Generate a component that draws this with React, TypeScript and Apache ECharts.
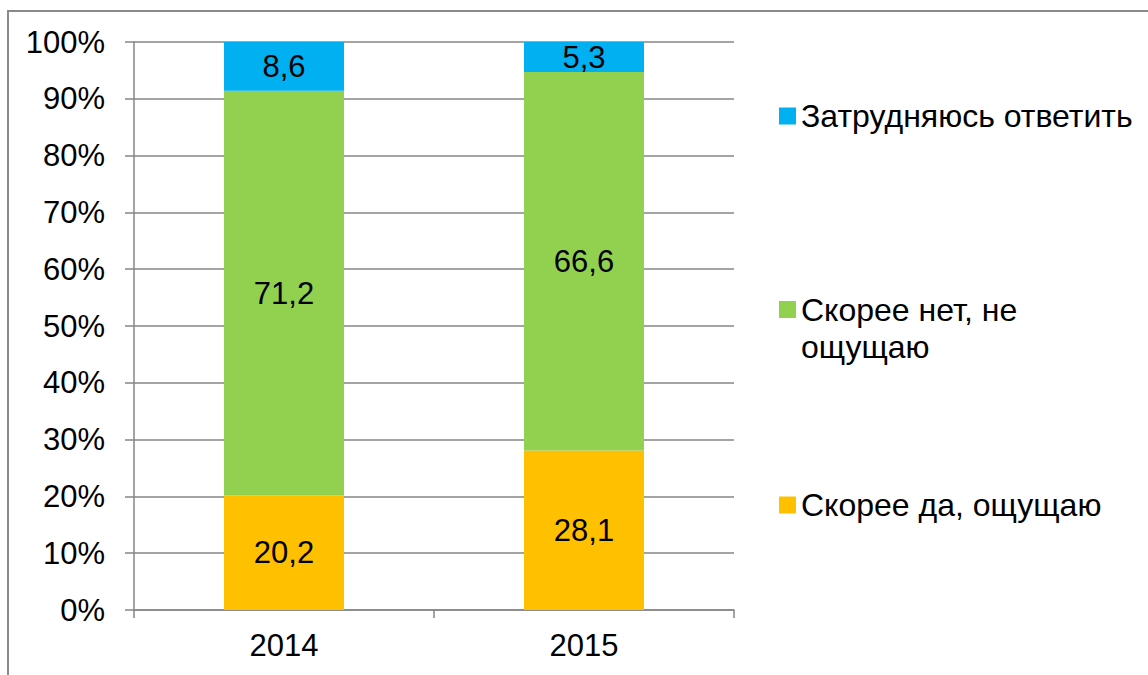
import React, { useEffect, useRef } from "react";
import * as echarts from "echarts";

const categories = ["2014", "2015"];
const seriesNames = ["Скорее да, ощущаю", "Скорее нет, не ощущаю", "Затрудняюсь ответить"];
const yesValues = [20.2, 28.1];
const noValues = [71.2, 66.6];
const dunnoValues = [8.6, 5.3];
const colors = ["#FFC000", "#92D050", "#00B0F0"];

export default function App() {
  const ref = useRef<HTMLDivElement>(null);
  useEffect(() => {
    if (!ref.current) return;
    const chart = echarts.init(ref.current, undefined, { renderer: "svg" });
    const font = "'Liberation Sans', Arial, sans-serif";
    const fmt = (p: any) => String(p.value).replace(".", ",");
    const mk = (name: string, data: number[], color: string) => ({
      type: "bar",
      name,
      stack: "total",
      data,
      barWidth: "40%",
      itemStyle: { color },
      label: {
        show: true,
        position: "inside",
        formatter: fmt,
        color: "#000",
        fontSize: 31,
        fontFamily: font,
      },
    });
    const legendText = { color: "#000", fontSize: 32, fontFamily: font };
    chart.setOption({
      animation: false,
      textStyle: { fontFamily: font },
      graphic: [
        {
          type: "rect",
          shape: { x: 8, y: 11, width: 1200, height: 700 },
          style: { fill: "none", stroke: "#8a8a8a", lineWidth: 2 },
          silent: true,
        },
      ],
      grid: { left: 134, right: 414, top: 42, bottom: 65 },
      xAxis: {
        type: "category",
        data: categories,
        axisLine: { lineStyle: { color: "#868686", width: 1.5 } },
        axisTick: { show: true, length: 8, lineStyle: { color: "#868686", width: 1.5 } },
        axisLabel: { color: "#000", fontSize: 31, margin: 20, fontFamily: font },
      },
      yAxis: {
        type: "value",
        min: 0,
        max: 100,
        interval: 10,
        axisLine: { show: true, lineStyle: { color: "#868686", width: 1.5 } },
        axisTick: { show: true, length: 9, lineStyle: { color: "#868686", width: 1.5 } },
        splitLine: { lineStyle: { color: "#868686", width: 1.5 } },
        axisLabel: { color: "#000", fontSize: 31, margin: 29, formatter: "{value}%", fontFamily: font },
      },
      legend: [
        {
          data: [seriesNames[2]],
          left: 779,
          top: 100,
          padding: 0,
          itemWidth: 17,
          itemHeight: 17,
          icon: "rect",
          textStyle: legendText,
        },
        {
          data: [seriesNames[1]],
          left: 779,
          top: 254,
          padding: 0,
          itemWidth: 17,
          itemHeight: 17,
          icon: "rect",
          formatter: () => "\nСкорее нет, не\nощущаю",
          textStyle: { ...legendText, lineHeight: 37 },
        },
        {
          data: [seriesNames[0]],
          left: 779,
          top: 489,
          padding: 0,
          itemWidth: 17,
          itemHeight: 17,
          icon: "rect",
          textStyle: legendText,
        },
      ],
      series: [
        mk(seriesNames[0], yesValues, colors[0]),
        mk(seriesNames[1], noValues, colors[1]),
        mk(seriesNames[2], dunnoValues, colors[2]),
      ],
    });
    return () => chart.dispose();
  }, []);
  return (
    <div
      ref={ref}
      style={{ position: "fixed", left: 0, top: 0, width: 1148, height: 675, background: "#fff" }}
    />
  );
}
